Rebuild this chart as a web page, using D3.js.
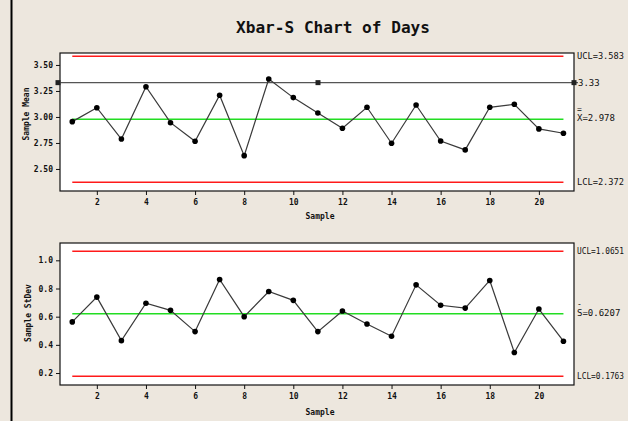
<!DOCTYPE html>
<html><head><meta charset="utf-8">
<script src="https://cdn.jsdelivr.net/npm/d3@7"></script>
<style>
html,body{margin:0;padding:0;background:#ede7de;}
svg{display:block;}
text{font-family:"DejaVu Sans Mono","Liberation Mono",monospace;fill:#111;}
</style></head>
<body>
<script>
const samples = [1,2,3,4,5,6,7,8,9,10,11,12,13,14,15,16,17,18,19,20,21];
const means = [2.955,3.089,2.788,3.291,2.945,2.766,3.209,2.628,3.365,3.186,3.038,2.891,3.093,2.747,3.115,2.769,2.683,3.093,3.122,2.885,2.843];
const stdevs = [0.563,0.739,0.430,0.695,0.645,0.494,0.864,0.600,0.779,0.716,0.494,0.640,0.548,0.461,0.826,0.681,0.661,0.857,0.346,0.654,0.426];
const xTicks = [2,4,6,8,10,12,14,16,18,20];
const meanTicks = [2.50,2.75,3.00,3.25,3.50];
const sdTicks = [0.2,0.4,0.6,0.8,1.0];
const meanLimits = [3.583, 2.978, 2.372];   // UCL, center, LCL
const meanTarget = 3.33;
const sdLimits = [1.0651, 0.6207, 0.1763];
const meanLimitLabels = ["UCL=3.583","X=2.978","LCL=2.372"];
const sdLimitLabels = ["UCL=1.0651","S=0.6207","LCL=0.1763"];

const W = 628, H = 421;
const svg = d3.select("body").append("svg").attr("width", W).attr("height", H);
svg.append("rect").attr("width", W).attr("height", H).attr("fill", "#ede7de");
svg.append("line").attr("x1", 11.5).attr("x2", 11.5).attr("y1", 0).attr("y2", H)
  .attr("stroke", "#000").attr("stroke-width", 2);

svg.append("text").attr("x", 333).attr("y", 33).attr("text-anchor", "middle")
  .attr("font-size", 15).attr("font-weight", "bold").attr("textLength", 194)
  .attr("lengthAdjust", "spacingAndGlyphs").text("Xbar-S Chart of Days");

const x = d3.scaleLinear().domain([0.5, 21.43]).range([60, 574]);

function fitLabel(g, xPos, yPos, txt) {
  const t = g.append("text").attr("x", xPos).attr("y", yPos).attr("font-size", 9).text(txt);
  const maxW = W - xPos - 4;
  if (t.node().getComputedTextLength() > maxW) {
    t.attr("font-size", 8.2).attr("textLength", maxW).attr("lengthAdjust", "spacingAndGlyphs");
  }
  return t;
}

function panel(cfg) {
  const y = d3.scaleLinear().domain(cfg.domain).range([cfg.bottom, cfg.top]);
  const g = svg.append("g");
  g.append("rect").attr("x", 60).attr("y", cfg.top).attr("width", 514)
    .attr("height", cfg.bottom - cfg.top).attr("fill", "#fff").attr("stroke", "#111").attr("stroke-width", 1.2);

  const ya = g.append("g").attr("transform", "translate(60,0)")
    .call(d3.axisLeft(y).tickValues(cfg.ticks).tickFormat(d3.format(cfg.fmt)).tickSize(4).tickPadding(3));
  ya.select(".domain").remove();
  ya.selectAll("text").attr("font-size", 8).attr("font-weight", "bold").style("font-family", "'DejaVu Sans Mono',monospace");
  ya.selectAll("line").attr("stroke", "#111");

  const xa = g.append("g").attr("transform", `translate(0,${cfg.bottom})`)
    .call(d3.axisBottom(x).tickValues(xTicks).tickSize(4).tickPadding(4));
  xa.select(".domain").remove();
  xa.selectAll("text").attr("font-size", 8).attr("font-weight", "bold").style("font-family", "'DejaVu Sans Mono',monospace");
  xa.selectAll("line").attr("stroke", "#111");

  g.append("text").attr("x", 320).attr("y", cfg.xlabY).attr("text-anchor", "middle")
    .attr("font-size", 8).attr("font-weight", "bold").text("Sample");
  g.append("text").attr("transform", `translate(${cfg.ylabX},${cfg.ylabMid}) rotate(-90)`)
    .attr("text-anchor", "middle").attr("font-size", 8).attr("font-weight", "bold").text(cfg.ylab);

  const colors = ["#ff1a1a", "#22dd22", "#ff1a1a"];
  cfg.limits.forEach((v, i) => {
    g.append("line").attr("x1", x(samples[0])).attr("x2", x(samples[samples.length - 1]))
      .attr("y1", y(v)).attr("y2", y(v)).attr("stroke", colors[i]).attr("stroke-width", 1.5);
  });
  if (cfg.target !== undefined) {
    const ty = y(cfg.target);
    g.append("line").attr("x1", 57).attr("x2", 578).attr("y1", ty).attr("y2", ty)
      .attr("stroke", "#555").attr("stroke-width", 1.3);
    [[58, ty], [318, ty], [574, ty]].forEach(p => {
      g.append("rect").attr("x", p[0] - 2.5).attr("y", p[1] - 2.5).attr("width", 5).attr("height", 5)
        .attr("fill", "#222");
    });
    g.append("text").attr("x", 578).attr("y", ty + 3).attr("font-size", 9).text("3.33");
  }
  // limit labels
  fitLabel(g, 577, y(cfg.limits[0]) + 3, cfg.labels[0]);
  fitLabel(g, 577, y(cfg.limits[1]) + 2, cfg.labels[1]);
  g.append("text").attr("x", 577).attr("y", y(cfg.limits[1]) - 7).attr("font-size", 8).text(cfg.bar);
  fitLabel(g, 577, y(cfg.limits[2]) + 3, cfg.labels[2]);

  const line = d3.line().x((d, i) => x(samples[i])).y(d => y(d));
  g.append("path").datum(cfg.values).attr("d", line).attr("fill", "none")
    .attr("stroke", "#3a3a3a").attr("stroke-width", 1.2);
  g.selectAll("circle.pt").data(cfg.values).enter().append("circle")
    .attr("cx", (d, i) => x(samples[i])).attr("cy", d => y(d)).attr("r", 2.8).attr("fill", "#000");
}

panel({domain: [2.288, 3.615], top: 53, bottom: 191, ticks: meanTicks, fmt: ".2f",
  values: means, limits: meanLimits, labels: meanLimitLabels, target: meanTarget, bar: "=",
  ylab: "Sample Mean", ylabX: 29, ylabMid: 114, xlabY: 219});
panel({domain: [0.115, 1.123], top: 243, bottom: 385, ticks: sdTicks, fmt: ".1f",
  values: stdevs, limits: sdLimits, labels: sdLimitLabels, bar: "-",
  ylab: "Sample StDev", ylabX: 31, ylabMid: 313, xlabY: 415});
</script>
</body></html>
